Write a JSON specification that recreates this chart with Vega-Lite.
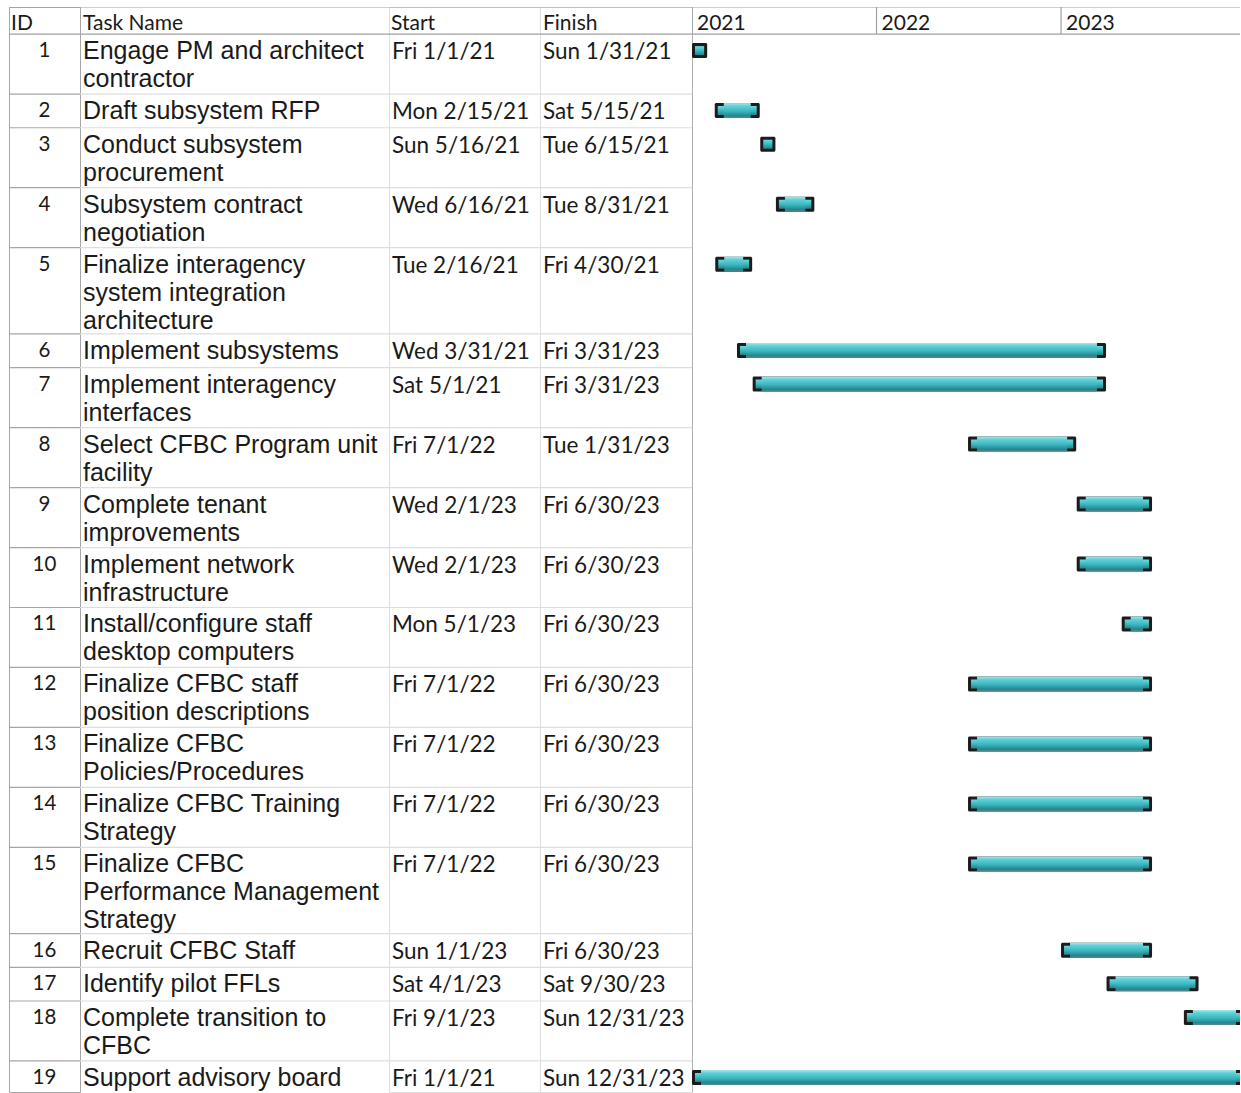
{
  "$schema": "https://vega.github.io/schema/vega-lite/v6.json",
  "padding": {"left": 8, "top": 6, "right": 0, "bottom": 0},
  "bounds": "flush",
  "background": "white",
  "config": {"view": {"stroke": "#dedede"}, "concat": {"spacing": 0}},
  "spacing": 0,
  "resolve": {"scale": {"x": "independent", "y": "shared"}},
  "data": {"values": [
    {"id": 1, "task": ["Engage PM and architect", "contractor"], "start": "2021/01/01", "finish": "2021/01/31"},
    {"id": 2, "task": ["Draft subsystem RFP"], "start": "2021/02/15", "finish": "2021/05/15"},
    {"id": 3, "task": ["Conduct subsystem", "procurement"], "start": "2021/05/16", "finish": "2021/06/15"},
    {"id": 4, "task": ["Subsystem contract", "negotiation"], "start": "2021/06/16", "finish": "2021/08/31"},
    {"id": 5, "task": ["Finalize interagency", "system integration", "architecture"], "start": "2021/02/16", "finish": "2021/04/30"},
    {"id": 6, "task": ["Implement subsystems"], "start": "2021/03/31", "finish": "2023/03/31"},
    {"id": 7, "task": ["Implement interagency", "interfaces"], "start": "2021/05/01", "finish": "2023/03/31"},
    {"id": 8, "task": ["Select CFBC Program unit", "facility"], "start": "2022/07/01", "finish": "2023/01/31"},
    {"id": 9, "task": ["Complete tenant", "improvements"], "start": "2023/02/01", "finish": "2023/06/30"},
    {"id": 10, "task": ["Implement network", "infrastructure"], "start": "2023/02/01", "finish": "2023/06/30"},
    {"id": 11, "task": ["Install/configure staff", "desktop computers"], "start": "2023/05/01", "finish": "2023/06/30"},
    {"id": 12, "task": ["Finalize CFBC staff", "position descriptions"], "start": "2022/07/01", "finish": "2023/06/30"},
    {"id": 13, "task": ["Finalize CFBC", "Policies/Procedures"], "start": "2022/07/01", "finish": "2023/06/30"},
    {"id": 14, "task": ["Finalize CFBC Training", "Strategy"], "start": "2022/07/01", "finish": "2023/06/30"},
    {"id": 15, "task": ["Finalize CFBC", "Performance Management", "Strategy"], "start": "2022/07/01", "finish": "2023/06/30"},
    {"id": 16, "task": ["Recruit CFBC Staff"], "start": "2023/01/01", "finish": "2023/06/30"},
    {"id": 17, "task": ["Identify pilot FFLs"], "start": "2023/04/01", "finish": "2023/09/30"},
    {"id": 18, "task": ["Complete transition to", "CFBC"], "start": "2023/09/01", "finish": "2023/12/31"},
    {"id": 19, "task": ["Support advisory board"], "start": "2021/01/01", "finish": "2023/12/31"}
  ]},
  "transform": [
    {"calculate": "length(datum.task) + 0.28", "as": "h"},
    {"window": [{"op": "sum", "field": "h", "as": "bottom"}], "sort": [{"field": "id"}], "frame": [null, 0]},
    {"calculate": "datum.bottom - datum.h", "as": "top"}
  ],
  "hconcat": [
    {
      "width": 71, "height": 1085, "view": {"stroke": "#a6a6a6"},
      "layer": [
        {"mark": {"type": "rule", "color": "#a6a6a6", "strokeWidth": 1.2, "clip": true},
         "encoding": {"y": {"field": "bottom", "type": "quantitative", "scale": {"domain": [-1.03, 40.22], "reverse": true, "nice": false, "zero": false}, "axis": null}}},
        {"data": {"values": [{"edge": -1.03}, {"edge": 0}]},
         "mark": {"type": "rule", "color": "#a0a0a0", "strokeWidth": 1.2, "clip": true},
         "encoding": {"y": {"field": "edge", "type": "quantitative", "scale": {"domain": [-1.03, 40.22], "reverse": true, "nice": false, "zero": false}, "axis": null}}},
        {"data": {"values": [{"label": "ID"}]},
         "mark": {"type": "text", "align": "left", "font": "Lato", "fontSize": 21, "dx": 2, "yOffset": 17, "color": "#1a1a1a"},
         "encoding": {
           "x": {"datum": 0, "type": "quantitative", "scale": {"domain": [0, 1]}, "axis": null},
           "y": {"datum": -1.03, "type": "quantitative", "scale": {"domain": [-1.03, 40.22], "reverse": true, "nice": false, "zero": false}, "axis": null},
           "text": {"field": "label"}}},
        {"mark": {"type": "text", "align": "center", "font": "Lato", "fontSize": 20.5, "yOffset": 17, "color": "#1a1a1a", "clip": true},
         "encoding": {
           "x": {"datum": 0.5, "type": "quantitative", "scale": {"domain": [0, 1]}, "axis": null},
           "y": {"field": "top", "type": "quantitative", "scale": {"domain": [-1.03, 40.22], "reverse": true, "nice": false, "zero": false}, "axis": null},
           "text": {"field": "id"}}}
      ]
    },
    {
      "width": 309, "height": 1085, "view": {"stroke": null},
      "layer": [
        {"mark": {"type": "rule", "color": "#dedede", "strokeWidth": 1.2, "clip": true},
         "encoding": {"y": {"field": "bottom", "type": "quantitative", "scale": {"domain": [-1.03, 40.22], "reverse": true, "nice": false, "zero": false}, "axis": null}}},
        {"data": {"values": [{"edge": -1.03}, {"edge": 0}]},
         "mark": {"type": "rule", "color": "#a0a0a0", "strokeWidth": 1.2, "clip": true},
         "encoding": {"y": {"field": "edge", "type": "quantitative", "scale": {"domain": [-1.03, 40.22], "reverse": true, "nice": false, "zero": false}, "axis": null}}},
        {"data": {"values": [{"label": "Task Name"}]},
         "mark": {"type": "text", "align": "left", "font": "Lato", "fontSize": 21, "dx": 3, "yOffset": 17, "color": "#1a1a1a"},
         "encoding": {
           "x": {"datum": 0, "type": "quantitative", "scale": {"domain": [0, 1]}, "axis": null},
           "y": {"datum": -1.03, "type": "quantitative", "scale": {"domain": [-1.03, 40.22], "reverse": true, "nice": false, "zero": false}, "axis": null},
           "text": {"field": "label"}}},
        {"mark": {"type": "text", "align": "left", "font": "Liberation Sans", "fontSize": 25, "lineHeight": 28, "dx": 3, "yOffset": 17, "color": "#1a1a1a", "clip": true},
         "encoding": {
           "x": {"datum": 0, "type": "quantitative", "scale": {"domain": [0, 1]}, "axis": null},
           "y": {"field": "top", "type": "quantitative", "scale": {"domain": [-1.03, 40.22], "reverse": true, "nice": false, "zero": false}, "axis": null},
           "text": {"field": "task"}}}
      ]
    },
    {
      "width": 151, "height": 1085, "view": {"stroke": "#dedede"},
      "layer": [
        {"mark": {"type": "rule", "color": "#dedede", "strokeWidth": 1.2, "clip": true},
         "encoding": {"y": {"field": "bottom", "type": "quantitative", "scale": {"domain": [-1.03, 40.22], "reverse": true, "nice": false, "zero": false}, "axis": null}}},
        {"data": {"values": [{"edge": -1.03}, {"edge": 0}]},
         "mark": {"type": "rule", "color": "#a0a0a0", "strokeWidth": 1.2, "clip": true},
         "encoding": {"y": {"field": "edge", "type": "quantitative", "scale": {"domain": [-1.03, 40.22], "reverse": true, "nice": false, "zero": false}, "axis": null}}},
        {"data": {"values": [{"label": "Start"}]},
         "mark": {"type": "text", "align": "left", "font": "Lato", "fontSize": 21, "dx": 2, "yOffset": 17, "color": "#1a1a1a"},
         "encoding": {
           "x": {"datum": 0, "type": "quantitative", "scale": {"domain": [0, 1]}, "axis": null},
           "y": {"datum": -1.03, "type": "quantitative", "scale": {"domain": [-1.03, 40.22], "reverse": true, "nice": false, "zero": false}, "axis": null},
           "text": {"field": "label"}}},
        {"mark": {"type": "text", "align": "left", "font": "Lato", "fontSize": 22.5, "dx": 3, "yOffset": 18, "color": "#1a1a1a", "clip": true},
         "encoding": {
           "x": {"datum": 0, "type": "quantitative", "scale": {"domain": [0, 1]}, "axis": null},
           "y": {"field": "top", "type": "quantitative", "scale": {"domain": [-1.03, 40.22], "reverse": true, "nice": false, "zero": false}, "axis": null},
           "text": {"field": "start", "type": "temporal", "format": "%a %-m/%-d/%y"}}}
      ]
    },
    {
      "width": 152, "height": 1085, "view": {"stroke": "#dedede"},
      "layer": [
        {"mark": {"type": "rule", "color": "#dedede", "strokeWidth": 1.2, "clip": true},
         "encoding": {"y": {"field": "bottom", "type": "quantitative", "scale": {"domain": [-1.03, 40.22], "reverse": true, "nice": false, "zero": false}, "axis": null}}},
        {"data": {"values": [{"edge": -1.03}, {"edge": 0}]},
         "mark": {"type": "rule", "color": "#a0a0a0", "strokeWidth": 1.2, "clip": true},
         "encoding": {"y": {"field": "edge", "type": "quantitative", "scale": {"domain": [-1.03, 40.22], "reverse": true, "nice": false, "zero": false}, "axis": null}}},
        {"data": {"values": [{"label": "Finish"}]},
         "mark": {"type": "text", "align": "left", "font": "Lato", "fontSize": 21, "dx": 3, "yOffset": 17, "color": "#1a1a1a"},
         "encoding": {
           "x": {"datum": 0, "type": "quantitative", "scale": {"domain": [0, 1]}, "axis": null},
           "y": {"datum": -1.03, "type": "quantitative", "scale": {"domain": [-1.03, 40.22], "reverse": true, "nice": false, "zero": false}, "axis": null},
           "text": {"field": "label"}}},
        {"mark": {"type": "text", "align": "left", "font": "Lato", "fontSize": 22.5, "dx": 3, "yOffset": 18, "color": "#1a1a1a", "clip": true},
         "encoding": {
           "x": {"datum": 0, "type": "quantitative", "scale": {"domain": [0, 1]}, "axis": null},
           "y": {"field": "top", "type": "quantitative", "scale": {"domain": [-1.03, 40.22], "reverse": true, "nice": false, "zero": false}, "axis": null},
           "text": {"field": "finish", "type": "temporal", "format": "%a %-m/%-d/%y"}}}
      ]
    },
    {
      "width": 548, "height": 1085, "view": {"stroke": null},
      "layer": [
        {"data": {"values": [{"edge": -1.03}, {"edge": 0}]},
         "mark": {"type": "rule", "color": "#a0a0a0", "strokeWidth": 1.2, "clip": true},
         "encoding": {"y": {"field": "edge", "type": "quantitative", "scale": {"domain": [-1.03, 40.22], "reverse": true, "nice": false, "zero": false}, "axis": null}}},
        {"data": {"values": [{"yr": "2021/01/01"}, {"yr": "2022/01/01"}, {"yr": "2023/01/01"}]},
         "layer": [
           {"mark": {"type": "rule", "color": "#a0a0a0", "strokeWidth": 1.2, "clip": true},
            "encoding": {
              "x": {"field": "yr", "type": "temporal", "scale": {"domain": [{"year": 2021, "month": 1, "date": 1}, {"year": 2023, "month": 12, "date": 21}]}, "axis": null},
              "y": {"datum": -1.03, "type": "quantitative", "scale": {"domain": [-1.03, 40.22], "reverse": true, "nice": false, "zero": false}, "axis": null},
              "y2": {"datum": 0}}},
           {"mark": {"type": "text", "align": "left", "font": "Lato", "fontSize": 21, "dx": 5, "yOffset": 17, "color": "#1a1a1a"},
            "encoding": {
              "x": {"field": "yr", "type": "temporal", "scale": {"domain": [{"year": 2021, "month": 1, "date": 1}, {"year": 2023, "month": 12, "date": 21}]}, "axis": null},
              "y": {"datum": -1.03, "type": "quantitative", "scale": {"domain": [-1.03, 40.22], "reverse": true, "nice": false, "zero": false}, "axis": null},
              "text": {"field": "yr", "type": "temporal", "format": "%Y"}}}
         ]},
        {"data": {"values": [{"yr": "2021/01/01"}]},
         "mark": {"type": "rule", "color": "#a0a0a0", "strokeWidth": 1.5, "clip": true},
         "encoding": {"x": {"field": "yr", "type": "temporal", "scale": {"domain": [{"year": 2021, "month": 1, "date": 1}, {"year": 2023, "month": 12, "date": 21}]}, "axis": null}}},
        {"mark": {"type": "rect", "fill": "#1c1c1c", "yOffset": 9, "y2Offset": 24, "clip": true, "cornerRadius": 1.5},
         "encoding": {
           "x": {"field": "start", "type": "temporal", "scale": {"domain": [{"year": 2021, "month": 1, "date": 1}, {"year": 2023, "month": 12, "date": 21}]}, "axis": null},
           "x2": {"field": "finish"},
           "y": {"field": "top", "type": "quantitative", "scale": {"domain": [-1.03, 40.22], "reverse": true, "nice": false, "zero": false}, "axis": null},
           "y2": {"field": "top"}}},
        {"mark": {"type": "rect", "xOffset": 3, "x2Offset": -3, "yOffset": 12, "y2Offset": 21, "clip": true,
                  "fill": {"gradient": "linear", "x1": 0, "y1": 0, "x2": 0, "y2": 1, "stops": [{"offset": 0, "color": "#6fd8de"}, {"offset": 0.5, "color": "#3cb8c1"}, {"offset": 1, "color": "#23828a"}]}},
         "encoding": {
           "x": {"field": "start", "type": "temporal", "scale": {"domain": [{"year": 2021, "month": 1, "date": 1}, {"year": 2023, "month": 12, "date": 21}]}, "axis": null},
           "x2": {"field": "finish"},
           "y": {"field": "top", "type": "quantitative", "scale": {"domain": [-1.03, 40.22], "reverse": true, "nice": false, "zero": false}, "axis": null},
           "y2": {"field": "top"}}},
        {"transform": [{"filter": "toDate(datum.finish) - toDate(datum.start) > 40 * 864e5"}],
         "mark": {"type": "rect", "xOffset": 9, "x2Offset": -9, "yOffset": 9, "y2Offset": 24, "clip": true,
                  "fill": {"gradient": "linear", "x1": 0, "y1": 0, "x2": 0, "y2": 1, "stops": [{"offset": 0, "color": "#a9e6ea"}, {"offset": 0.2, "color": "#5fd0d8"}, {"offset": 0.55, "color": "#3ab5be"}, {"offset": 0.85, "color": "#24858d"}, {"offset": 1, "color": "#5e8a8e"}]}},
         "encoding": {
           "x": {"field": "start", "type": "temporal", "scale": {"domain": [{"year": 2021, "month": 1, "date": 1}, {"year": 2023, "month": 12, "date": 21}]}, "axis": null},
           "x2": {"field": "finish"},
           "y": {"field": "top", "type": "quantitative", "scale": {"domain": [-1.03, 40.22], "reverse": true, "nice": false, "zero": false}, "axis": null},
           "y2": {"field": "top"}}}
      ]
    }
  ]
}
